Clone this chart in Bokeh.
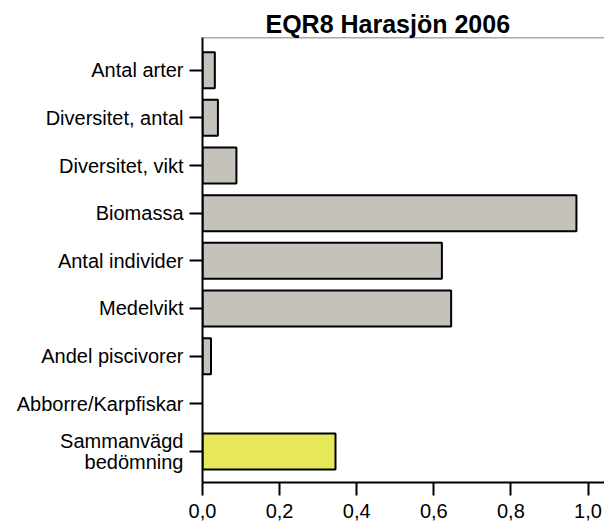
from bokeh.plotting import figure
from bokeh.models import FixedTicker, Range1d, Span, ColumnDataSource
from bokeh.embed import file_html
from bokeh.resources import INLINE

# Data
categories = ["Antal arter", "Diversitet, antal", "Diversitet, vikt", "Biomassa",
              "Antal individer", "Medelvikt", "Andel piscivorer", "Abborre/Karpfiskar",
              "Sammanvägd\nbedömning"]
values = [0.032, 0.040, 0.088, 0.970, 0.621, 0.645, 0.022, 0.0, 0.345]
colors = ["#c5c1bb"] * 8 + ["#e6e85a"]
x_ticks = [0.0, 0.2, 0.4, 0.6, 0.8, 1.0]
x_tick_labels = ["0,0", "0,2", "0,4", "0,6", "0,8", "1,0"]

positions = list(range(len(categories)))
src = ColumnDataSource(dict(y=[p for p, v in zip(positions, values) if v > 0],
                            right=[v for v in values if v > 0],
                            color=[c for c, v in zip(colors, values) if v > 0]))

FONT = "Liberation Sans"

p = figure(width=604, height=526, output_backend="svg", toolbar_location=None,
           x_range=Range1d(0, 1.0428), y_range=Range1d(8.651, -0.686),
           min_border_left=202, min_border_right=0, min_border_top=37, min_border_bottom=44,
           title="EQR8 Harasjön 2006")

p.hbar(y="y", left=0, right="right", height=0.755, fill_color="color",
       line_color="black", line_width=2, source=src)

p.outline_line_color = None
p.grid.visible = False

p.title.text_font = FONT
p.title.text_font_size = "25px"
p.title.text_font_style = "bold"
p.title.align = "left"
p.title.offset = 63
p.title.standoff = 0
p.title.text_color = "black"

# top border line
p.add_layout(Span(location=-0.686, dimension="width", line_color="#555555", line_width=1.5))

xa = p.xaxis[0]
xa.ticker = FixedTicker(ticks=x_ticks)
xa.major_label_overrides = {t: l for t, l in zip(x_ticks, x_tick_labels)}
xa.minor_tick_line_color = None
xa.major_tick_in = 0
xa.major_tick_out = 13
xa.major_tick_line_width = 2
xa.axis_line_width = 2
xa.axis_line_color = "black"
xa.major_tick_line_color = "black"
xa.major_label_text_font = FONT
xa.major_label_text_font_size = "20px"
xa.major_label_text_color = "black"
xa.major_label_standoff = 8

ya = p.yaxis[0]
ya.ticker = FixedTicker(ticks=positions)
ya.major_label_overrides = {i: c for i, c in zip(positions, categories)}
ya.minor_tick_line_color = None
ya.major_tick_in = 0
ya.major_tick_out = 13
ya.major_tick_line_width = 2
ya.axis_line_width = 2
ya.axis_line_color = "black"
ya.major_tick_line_color = "black"
ya.major_label_text_font = FONT
ya.major_label_text_font_size = "20px"
ya.major_label_text_color = "black"
ya.major_label_text_line_height = 0.95
ya.major_label_standoff = 6

open("out.html", "w").write(file_html(p, INLINE))
